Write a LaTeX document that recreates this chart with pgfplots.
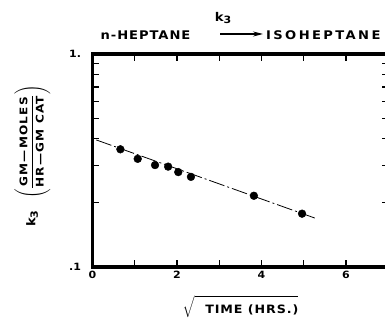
\documentclass[border=0pt]{standalone}
\usepackage{pgfplots}
\pgfplotsset{compat=1.18}
\usetikzlibrary{arrows.meta}
\usepackage{amsmath}
\usepackage{fontspec}
\setmainfont{DejaVu Sans}[FakeStretch=1.1]
\newfontfamily\tfont{DejaVu Sans}[FakeStretch=1.1,LetterSpace=8]
\newfontfamily\ifont{DejaVu Sans}[FakeStretch=1.1,LetterSpace=20]
\newfontfamily\yfont{DejaVu Sans}[FakeStretch=1.15,LetterSpace=12]
\newcommand{\kthree}{k\raisebox{-2.5pt}{\fontsize{10}{10}\selectfont 3}}
\begin{document}
\begin{tikzpicture}
\path[use as bounding box] (-92.5pt,-55pt) rectangle (292.5pt,267pt);
\begin{axis}[
  scale only axis,
  width=295.75pt, height=213pt,
  xmin=0, xmax=7,
  ymode=log, ymin=0.1, ymax=1,
  xtick={0,1,2,3,4,5,6,7},
  xticklabels={0,,2,,4,,6,},
  ytick={0.1,1},
  yticklabels={.1,1.},
  tick align=inside,
  major tick length=7pt,
  minor tick length=6.5pt,
  tick style={line width=1.1pt, black},
  axis line style={line width=3.6pt},
  /pgf/number format/assume math mode=true,
  ticklabel style={font=\bfseries\fontsize{10}{12}\selectfont},
  yticklabel style={xshift=-8pt},
  xticklabel style={yshift=-1pt},
  clip=false,
]
\addplot[black, line width=0.8pt, dash pattern=on 16pt off 3pt on 2pt off 3pt] coordinates {(0.09,0.395) (5.29,0.169)};
\addplot[only marks, mark=*, mark size=3.9pt, black] coordinates {
(0.66,0.357) (1.07,0.322) (1.48,0.301) (1.79,0.296) (2.03,0.279) (2.33,0.265) (3.82,0.216) (4.96,0.178)};
\end{axis}
% titles and axis labels
\node[font=\tfont\bfseries\fontsize{11.9}{14}\selectfont] at (53pt,232pt) {n-HEPTANE};
\draw[line width=1.2pt,-{Stealth[length=10pt,width=5pt]}] (127.5pt,233pt) -- (170.5pt,233pt);
\node[font=\bfseries\fontsize{12}{14}\selectfont] at (130.5pt,249pt) {\kthree};
\node[font=\ifont\bfseries\fontsize{11.9}{14}\selectfont, anchor=west, inner sep=0pt] at (173.5pt,232pt) {ISOHEPTANE};
\node[font=\tfont\bfseries\fontsize{11.5}{14}\selectfont, anchor=center] at (148pt,-40pt)
  {$\sqrt{\rule[-2pt]{0pt}{15pt}\mbox{\tfont\bfseries\fontsize{11.5}{14}\selectfont\ \ TIME (HRS.)}}$};
\node[rotate=90, anchor=center] at (-60pt,111pt)
  {\bfseries\fontsize{12}{14}\selectfont\kthree\hspace{12pt}$\left(\rule[-15pt]{0pt}{36pt}\dfrac{\mbox{\yfont\bfseries\fontsize{10.5}{12}\selectfont GM—MOLES}}{\mbox{\yfont\bfseries\fontsize{10.5}{12}\selectfont HR—GM CAT}}\right)$};
\end{tikzpicture}
\end{document}
